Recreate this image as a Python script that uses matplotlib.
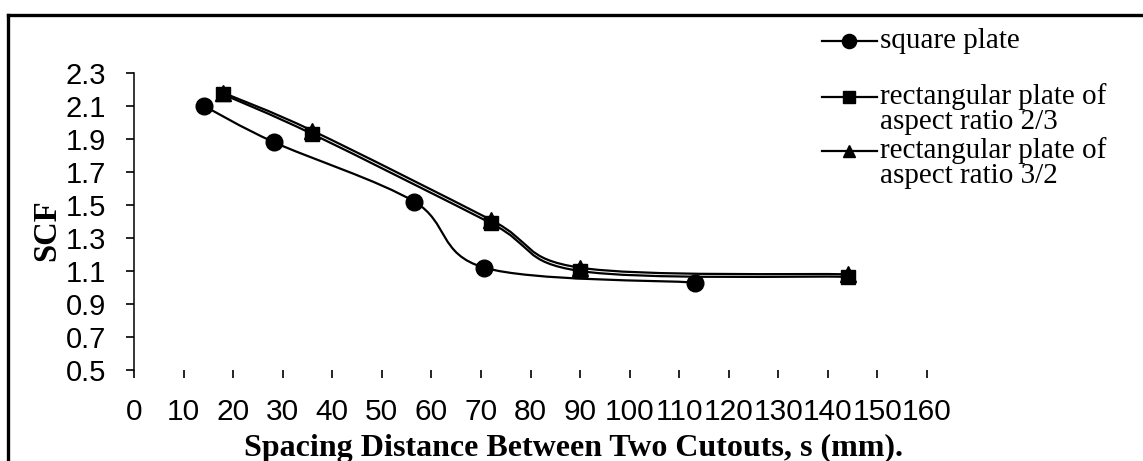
import numpy as np
import matplotlib
matplotlib.use('Agg')
import matplotlib.pyplot as plt
from matplotlib.path import Path
from matplotlib.patches import PathPatch
from matplotlib.lines import Line2D

# data
square_x = [14.14, 28.28, 56.57, 70.71, 113.14]
square_scf = [2.10, 1.88, 1.52, 1.12, 1.03]
rect23_x = [18, 36, 72, 90, 144]
rect23_scf = [2.17, 1.93, 1.39, 1.10, 1.065]
rect32_x = [18, 36, 72, 90, 144]
rect32_scf = [2.18, 1.95, 1.41, 1.12, 1.08]

x_ticks = list(range(0, 170, 10))
y_ticks = [0.5, 0.7, 0.9, 1.1, 1.3, 1.5, 1.7, 1.9, 2.1, 2.3]

W, H = 1143, 461
SANS = 'Liberation Sans'
SERIF = 'Liberation Serif'


def fx(px):
    return px / W


def fy(py):
    return 1 - py / H


def smooth_path(x, y):
    # Excel-like smoothed line: Catmull-Rom segments as cubic Bezier curves
    pts = np.column_stack([x, y]).astype(float)
    n = len(pts)
    verts = [pts[0]]
    codes = [Path.MOVETO]
    for i in range(n - 1):
        p0 = pts[max(i - 1, 0)]
        p1 = pts[i]
        p2 = pts[i + 1]
        p3 = pts[min(i + 2, n - 1)]
        verts += [p1 + (p2 - p0) / 6, p2 - (p3 - p1) / 6, p2]
        codes += [Path.CURVE4] * 3
    return Path(verts, codes)


fig = plt.figure(figsize=(W / 100, H / 100), dpi=100)
ax = fig.add_axes([fx(134), fy(370), (927 - 134) / W, (370 - 73) / H])

series = [
    (rect32_x, rect32_scf, '^', 11),
    (rect23_x, rect23_scf, 's', 10),
    (square_x, square_scf, 'o', 12),
]
for xs, ys, m, ms in series:
    ax.add_patch(PathPatch(smooth_path(xs, ys), fill=False, edgecolor='black',
                           lw=1.6, capstyle='round', joinstyle='round'))
    ax.plot(xs, ys, linestyle='none', marker=m, markersize=ms, color='black')

ax.set_xlim(0, 160)
ax.set_ylim(0.5, 2.3)
ax.set_xticks(x_ticks)
ax.set_yticks(y_ticks)
ax.set_xticklabels([str(t) for t in x_ticks], family=SANS, fontsize=21.5)
ax.set_yticklabels([f'{t:.1f}' for t in y_ticks], family=SANS, fontsize=21)
ax.tick_params(axis='x', direction='out', length=5.5, width=1.2, pad=15)
ax.tick_params(axis='y', direction='out', length=6, width=1.2, pad=14)
for side in ['top', 'right', 'bottom']:
    ax.spines[side].set_visible(False)
ax.spines['left'].set_linewidth(1.1)

fig.text(fx(47), fy(230), 'SCF', family=SERIF, fontweight='bold', fontsize=23.5,
         rotation=90, ha='center', va='center')
fig.text(fx(573), fy(448), 'Spacing Distance Between Two Cutouts, s (mm).',
         family=SERIF, fontweight='bold', fontsize=23, ha='center', va='center')

# legend drawn by hand, marker aligned with the first text line
legend_rows = [
    ('o', 12, 41, ['square plate']),
    ('s', 10, 97, ['rectangular plate of', 'aspect ratio 2/3']),
    ('^', 11, 151, ['rectangular plate of', 'aspect ratio 3/2']),
]
for m, ms, ypx, lines in legend_rows:
    fig.add_artist(Line2D([fx(822), fx(877)], [fy(ypx), fy(ypx)], color='black', lw=1.6))
    fig.add_artist(Line2D([fx(849)], [fy(ypx)], marker=m, markersize=ms * 0.85,
                          color='black', linestyle='none'))
    for k, line in enumerate(lines):
        fig.text(fx(880), fy(ypx + 25 * k), line, family=SERIF, fontsize=21,
                 ha='left', va='center')

# outer frame (top and left edges visible in the crop)
fig.add_artist(Line2D([fx(8), fx(8)], [0, fy(15)], color='black', lw=2.4))
fig.add_artist(Line2D([fx(8), 1], [fy(15), fy(15)], color='black', lw=2.4))

fig.savefig('out.png', dpi=100)
